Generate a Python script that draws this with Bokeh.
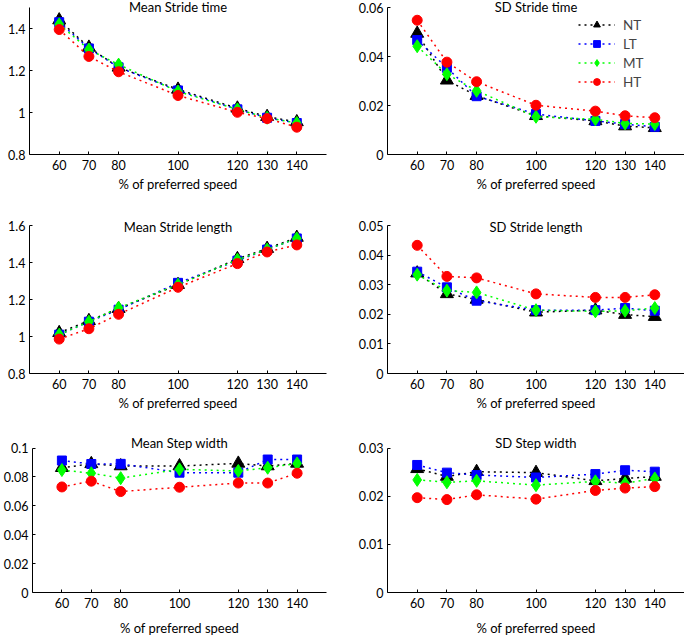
from bokeh.plotting import figure
from bokeh.layouts import column, row
from bokeh.models import (FixedTicker, CustomJSTickFormatter, Range1d, Label,
                          Legend, LegendItem)
from bokeh.embed import file_html
from bokeh.resources import INLINE

speed = [60, 70, 80, 100, 120, 130, 140]
groups = ["NT", "LT", "MT", "HT"]

mean_stride_time_NT = [1.44, 1.31, 1.215, 1.11, 1.02, 0.98, 0.955]
mean_stride_time_LT = [1.43, 1.305, 1.215, 1.105, 1.015, 0.975, 0.95]
mean_stride_time_MT = [1.42, 1.30, 1.228, 1.10, 1.015, 0.975, 0.95]
mean_stride_time_HT = [1.395, 1.267, 1.194, 1.081, 1.001, 0.971, 0.93]

sd_stride_time_NT = [0.0494, 0.0303, 0.0240, 0.0158, 0.0137, 0.0116, 0.0109]
sd_stride_time_LT = [0.0467, 0.0354, 0.0238, 0.0165, 0.0137, 0.0124, 0.0113]
sd_stride_time_MT = [0.0442, 0.0328, 0.0260, 0.0154, 0.0144, 0.0127, 0.0124]
sd_stride_time_HT = [0.0548, 0.0377, 0.0297, 0.0201, 0.0177, 0.0158, 0.0150]

mean_stride_length_NT = [1.02, 1.085, 1.15, 1.28, 1.42, 1.475, 1.535]
mean_stride_length_LT = [1.01, 1.08, 1.145, 1.29, 1.41, 1.47, 1.53]
mean_stride_length_MT = [1.01, 1.08, 1.155, 1.28, 1.415, 1.47, 1.53]
mean_stride_length_HT = [0.986, 1.042, 1.12, 1.266, 1.394, 1.457, 1.495]

sd_stride_length_NT = [0.0339, 0.0269, 0.0250, 0.0207, 0.0214, 0.0199, 0.0192]
sd_stride_length_LT = [0.0344, 0.0291, 0.0246, 0.0214, 0.0214, 0.0221, 0.0212]
sd_stride_length_MT = [0.0334, 0.0280, 0.0274, 0.0214, 0.0210, 0.0212, 0.0221]
sd_stride_length_HT = [0.0433, 0.0328, 0.0323, 0.0269, 0.0257, 0.0257, 0.0266]

mean_step_width_NT = [0.0864, 0.0891, 0.0876, 0.0876, 0.0894, 0.0876, 0.0894]
mean_step_width_LT = [0.0914, 0.0890, 0.0891, 0.0830, 0.0830, 0.0921, 0.0921]
mean_step_width_MT = [0.0848, 0.0826, 0.0792, 0.0853, 0.0842, 0.0864, 0.0894]
mean_step_width_HT = [0.0731, 0.0771, 0.0699, 0.0729, 0.0758, 0.0758, 0.0826]

sd_step_width_NT = [0.0257, 0.0241, 0.0251, 0.0249, 0.0232, 0.0237, 0.0241]
sd_step_width_LT = [0.0265, 0.0249, 0.0244, 0.0239, 0.0246, 0.0254, 0.0251]
sd_step_width_MT = [0.0234, 0.0229, 0.0232, 0.0223, 0.0231, 0.0227, 0.0237]
sd_step_width_HT = [0.0197, 0.0193, 0.0203, 0.0194, 0.0212, 0.0217, 0.0220]

x_ticks = [60, 70, 80, 100, 120, 130, 140]

FONT = "Lato"
colors = {"NT": "#000000", "LT": "#0000ff", "MT": "#00ff00", "HT": "#ff0000"}
markers = {"NT": ("triangle", 13), "LT": ("square", 9), "MT": ("diamond", 13), "HT": ("circle", 10)}

# row geometry (pixels): frame top, axis top, axis bottom (= frame bottom)
ROWS = [
    dict(ftop=0, atop=7, abot=154, title_y=6, xlab=3),
    dict(ftop=215, atop=225, abot=373, title_y=226, xlab=3),
    dict(ftop=432, atop=448, abot=596, title_y=443, xlab=9),
]
FIG_TOPS = [0, 199, 418]
FIG_BOTS = [199, 418, 638]


def panel(title, series, yrange, yticks, ri, side, legend=False):
    g = ROWS[ri]
    ymin, ymax = yrange
    span = ymax - ymin
    px = span / (g["abot"] - g["atop"])
    y_end = ymax + (g["atop"] - g["ftop"]) * px
    bt = g["ftop"] - FIG_TOPS[ri]
    bb = FIG_BOTS[ri] - g["abot"]
    height = FIG_BOTS[ri] - FIG_TOPS[ri]
    if side == "L":
        width, bl, br = 342, 29, 16
    else:
        width, bl, br = 342, 45, 0
    p = figure(width=width, height=height, output_backend="svg",
               toolbar_location=None, min_border_left=bl, min_border_right=br,
               min_border_top=bt, min_border_bottom=bb,
               x_range=Range1d(50, 150), y_range=Range1d(ymin, y_end))
    p.outline_line_color = None
    p.xgrid.visible = False
    p.ygrid.visible = False
    p.background_fill_color = "white"
    p.border_fill_color = "white"
    for ax in (p.xaxis[0], p.yaxis[0]):
        ax.axis_line_color = "black"
        ax.axis_line_width = 1
        ax.major_tick_in = 3
        ax.major_tick_out = 0
        ax.minor_tick_in = 0
        ax.minor_tick_out = 0
        ax.major_label_text_font = FONT
        ax.major_label_text_font_size = "12.5px"
        ax.major_label_text_color = "black"
        ax.major_tick_line_color = "black"
    p.yaxis.bounds = (ymin, ymax)
    p.xaxis.ticker = FixedTicker(ticks=x_ticks)
    p.yaxis.ticker = FixedTicker(ticks=yticks)
    p.yaxis.formatter = CustomJSTickFormatter(code="return String(tick);")
    p.xaxis.major_label_standoff = 5
    p.yaxis.major_label_standoff = 4
    p.xaxis.axis_label = "% of preferred speed"
    p.xaxis.axis_label_text_font = FONT
    p.xaxis.axis_label_text_font_size = "13px"
    p.xaxis.axis_label_text_font_style = "normal"
    p.xaxis.axis_label_text_color = "black"
    p.xaxis.axis_label_standoff = g["xlab"]

    items = []
    for grp, vals in zip(groups, series):
        c = colors[grp]
        mk, sz = markers[grp]
        lr = p.line(speed, vals, line_color=c, line_width=1.5, line_dash="2 4")
        sr = p.scatter(speed, vals, marker=mk, size=sz, fill_color=c, line_color=c)
        items.append(LegendItem(label=grp, renderers=[lr, sr]))

    ty = ymax + (g["atop"] - g["title_y"]) * px
    p.add_layout(Label(x=100, y=ty, text=title, text_align="center",
                       text_baseline="middle",
                       text_font=FONT, text_font_size="13px", text_color="black"))
    if legend:
        lg = Legend(items=items, location=(191, 64), padding=0, margin=0,
                    spacing=2, glyph_height=17, label_height=17, glyph_width=37,
                    label_standoff=8, border_line_color=None,
                    background_fill_alpha=0, label_text_font=FONT,
                    label_text_font_size="13.5px")
        p.add_layout(lg, "center")
    return p


p1 = panel("Mean Stride time",
           [mean_stride_time_NT, mean_stride_time_LT, mean_stride_time_MT, mean_stride_time_HT],
           (0.8, 1.5), [0.8, 1, 1.2, 1.4], 0, "L")
p2 = panel("SD Stride time",
           [sd_stride_time_NT, sd_stride_time_LT, sd_stride_time_MT, sd_stride_time_HT],
           (0, 0.06), [0, 0.02, 0.04, 0.06], 0, "R", legend=True)
p3 = panel("Mean Stride length",
           [mean_stride_length_NT, mean_stride_length_LT, mean_stride_length_MT, mean_stride_length_HT],
           (0.8, 1.6), [0.8, 1, 1.2, 1.4, 1.6], 1, "L")
p4 = panel("SD Stride length",
           [sd_stride_length_NT, sd_stride_length_LT, sd_stride_length_MT, sd_stride_length_HT],
           (0, 0.05), [0, 0.01, 0.02, 0.03, 0.04, 0.05], 1, "R")
p5 = panel("Mean Step width",
           [mean_step_width_NT, mean_step_width_LT, mean_step_width_MT, mean_step_width_HT],
           (0, 0.1), [0, 0.02, 0.04, 0.06, 0.08, 0.1], 2, "L")
p6 = panel("SD Step width",
           [sd_step_width_NT, sd_step_width_LT, sd_step_width_MT, sd_step_width_HT],
           (0, 0.03), [0, 0.01, 0.02, 0.03], 2, "R")

layout = column(row(p1, p2), row(p3, p4), row(p5, p6))

open("out.html", "w").write(file_html(layout, INLINE))
